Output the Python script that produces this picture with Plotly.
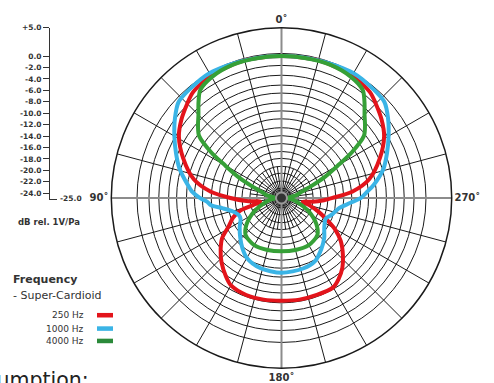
import plotly.graph_objects as go

# ---------------- data (dB rel. 1V/Pa vs angle, 0 deg = front/top, CCW) ----------------
red_theta = [0, 15, 30, 40, 45, 52, 59, 68, 78, 85, 90, 95, 100, 104, 107, 112, 118, 124, 130, 137, 145, 150, 160, 170, 180,
             190, 200, 210, 215, 221, 227, 234, 240, 245, 250, 255, 260, 263, 267, 270, 275, 282, 292, 301, 308, 315, 320, 330, 345, 360]
red_db = [0, 0.1, -0.1, -0.7, -1.5, -2.6, -3.9, -6.3, -9.2, -12.5, -16, -18.8, -21.2, -19.9, -17.4, -15.8, -14.5, -12.4, -11, -9.5, -8, -7.2, -6.8, -6.8, -6.9,
          -6.8, -6.8, -6.8, -7.5, -8.65, -10.2, -12.1, -14.2, -16.4, -18.2, -19.8, -21.2, -19.5, -17.5, -16, -12.5, -9.2, -6.3, -3.9, -2.6, -1.5, -0.7, -0.1, 0.1, 0]

blue_theta = [0, 15, 30, 40, 47, 53, 60, 67, 74, 82, 86, 90, 93, 96, 100, 106, 112, 117, 125, 134, 142, 150, 163, 180,
              197, 208, 218, 227, 235, 245, 252, 260, 266, 270, 274, 278, 286, 293, 300, 307, 313, 320, 330, 345, 360]
blue_db = [0, 0.1, 0.4, 0.1, -0.2, -1.5, -3.2, -4.8, -6.3, -8.3, -9.2, -10.6, -11.9, -12.5, -14.5, -16.2, -16.9, -16.9, -16.0, -14.9, -13.8, -12.8, -12.1, -11.8,
           -12.0, -12.4, -13.6, -14.7, -15.8, -16.4, -15.6, -14.7, -12.8, -11.0, -9.9, -8.6, -6.3, -4.8, -3.2, -1.5, -0.2, 0.1, 0.4, 0.1, 0]

green_theta = [0, 10, 20, 30, 37, 41, 45, 49, 53, 57, 60, 64, 68, 73, 80, 90, 100, 106, 116, 127, 136, 150, 165, 180,
               195, 210, 224, 233, 244, 254, 260, 270, 280, 287, 292, 296, 300, 303, 307, 311, 315, 319, 323, 330, 340, 350, 360]
green_db = [0, 0, 0, -0.4, -1.2, -2.7, -4.3, -5.5, -6.8, -10.2, -13.5, -16.5, -19.2, -21.3, -22.4, -24, -22.8, -21.9, -19.7, -17.3, -15.9, -15.4, -15.5, -15.6,
            -15.5, -15.4, -15.9, -17.3, -19.7, -21.9, -22.8, -24, -22.4, -21.3, -19.2, -16.5, -13.5, -10.2, -6.8, -5.5, -4.3, -2.7, -1.2, -0.4, 0, 0, 0]

series_names = ["250 Hz", "1000 Hz", "4000 Hz"]
series_colors = ["#e3141b", "#3ab4e6", "#36a037"]
swatch_colors = ["#e3141b", "#3ab4e6", "#2b8a3a"]

# dB scale on the left
scale_vals = [5, 0, -2, -4, -6, -8, -10, -12, -14, -16, -18, -20, -22, -24]
scale_text = ["+5.0", "0.0", "-2.0", "-4.0", "-6.0", "-8.0", "-10.0", "-12.0", "-14.0", "-16.0", "-18.0", "-20.0", "-22.0", "-24.0"]

# polar grid rings (dB)
ring_vals = [-23.26, -22.03, -20.64, -19.42, -18.02, -16.8, -15.41, -14.01, -12.62, -11.05, -9.65, -8.25, -6.51, -5.11, -3.37, -1.63, 0.47]
spoke_vals = list(range(0, 360, 15))
angle_labels = {0: "0˚", 90: "90˚", 180: "180˚", 270: "270˚"}

R_MIN, R_MAX = -25, 5
W, H = 494, 383

fig = go.Figure()

# inner denser spokes
ir, it = [], []
for a in spoke_vals:
    ir += [R_MIN, -19.42, None]
    it += [a + 7.5, a + 7.5, None]
fig.add_trace(go.Scatterpolar(r=ir, theta=it, mode="lines", line=dict(color="#1a1a1a", width=1),
                              hoverinfo="skip", showlegend=False))
# grey main axes
fig.add_trace(go.Scatterpolar(r=[R_MAX, R_MIN, R_MAX], theta=[0, 0, 180], mode="lines",
                              line=dict(color="#8c8c8c", width=2), hoverinfo="skip", showlegend=False))
fig.add_trace(go.Scatterpolar(r=[R_MAX, R_MIN, R_MAX], theta=[90, 90, 270], mode="lines",
                              line=dict(color="#8c8c8c", width=2), hoverinfo="skip", showlegend=False))

for th, db, name, col in [(red_theta, red_db, series_names[0], series_colors[0]),
                          (blue_theta, blue_db, series_names[1], series_colors[1]),
                          (green_theta, green_db, series_names[2], series_colors[2])]:
    fig.add_trace(go.Scatterpolar(r=db, theta=th, mode="lines", name=name,
                                  line=dict(color=col, width=4, shape="spline", smoothing=0.8),
                                  showlegend=False))

# center hub
fig.add_trace(go.Scatterpolar(r=[R_MIN], theta=[0], mode="markers",
                              marker=dict(size=11, color="#333333", line=dict(color="#9a9a9a", width=2)),
                              hoverinfo="skip", showlegend=False))

# left dB scale as a cartesian axis
fig.add_trace(go.Scatter(x=[0], y=[R_MIN], mode="markers", marker=dict(opacity=0),
                         xaxis="x", yaxis="y", hoverinfo="skip", showlegend=False))

fig.update_layout(
    width=W, height=H,
    margin=dict(l=0, r=0, t=0, b=0),
    paper_bgcolor="white", plot_bgcolor="white",
    font=dict(family="DejaVu Sans", color="#333333"),
    polar=dict(
        domain=dict(x=[109.5 / W, 453.5 / W], y=[15 / H, 359 / H]),
        bgcolor="white",
        radialaxis=dict(range=[R_MIN, R_MAX], tickmode="array", tickvals=ring_vals,
                        showticklabels=False, ticks="", showline=False,
                        gridcolor="#1a1a1a", gridwidth=1),
        angularaxis=dict(rotation=90, direction="counterclockwise",
                         tickmode="array", tickvals=spoke_vals,
                         ticktext=[angle_labels.get(a, "") for a in spoke_vals],
                         tickfont=dict(size=10, color="#333333", weight="bold"),
                         ticks="", showline=True, linecolor="#1a1a1a", linewidth=1.5,
                         gridcolor="#1a1a1a", gridwidth=1),
    ),
    xaxis=dict(domain=[50 / W, 57 / W], range=[0, 1], showline=True, linecolor="#333333", linewidth=1,
               showticklabels=False, ticks="", showgrid=False, zeroline=False, fixedrange=True),
    yaxis=dict(domain=[(H - 197.05) / H, (H - 23.8) / H], range=[R_MIN, R_MAX], showline=True,
               linecolor="#333333", linewidth=1, ticks="outside", ticklen=6, tickwidth=1, tickcolor="#333333",
               tickmode="array", tickvals=scale_vals, ticktext=scale_text,
               tickfont=dict(size=7.5, color="#333333", weight="bold"),
               showgrid=False, zeroline=False, fixedrange=True),
)

ann = [
    dict(text="-25.0", x=58 / W, y=(H - 197) / H, xanchor="left", yanchor="middle",
         font=dict(size=7.5, weight="bold")),
    dict(text="dB rel. 1V/Pa", x=16 / W, y=(H - 220) / H, xanchor="left", yanchor="middle",
         font=dict(size=8.5, weight="bold")),
    dict(text="Frequency", x=11 / W, y=(H - 278) / H, xanchor="left", yanchor="middle",
         font=dict(size=11, weight="bold")),
    dict(text="- Super-Cardioid", x=11 / W, y=(H - 295) / H, xanchor="left", yanchor="middle",
         font=dict(size=11)),
    dict(text="Consumption:", x=91 / W, y=0, xanchor="right", yanchor="bottom", yshift=-11,
         font=dict(size=20.5, color="#222222")),
]
legend_y = [314.5, 328, 340.5]
shapes = []
for name, col, yy in zip(series_names, swatch_colors, legend_y):
    ann.append(dict(text=name, x=86 / W, y=(H - yy) / H, xanchor="right", yanchor="middle",
                    font=dict(size=9, color="#333333")))
    shapes.append(dict(type="rect", xref="paper", yref="paper", x0=97 / W, x1=113 / W,
                       y0=(H - yy - 2.3) / H, y1=(H - yy + 2.3) / H, fillcolor=col, line=dict(width=0)))
for a in ann:
    a.update(xref="paper", yref="paper", showarrow=False)
fig.update_layout(annotations=ann, shapes=shapes)

fig.write_html("out.html", config={"displayModeBar": False},
               post_script="document.body.style.margin='0px';document.body.style.padding='0px';")
